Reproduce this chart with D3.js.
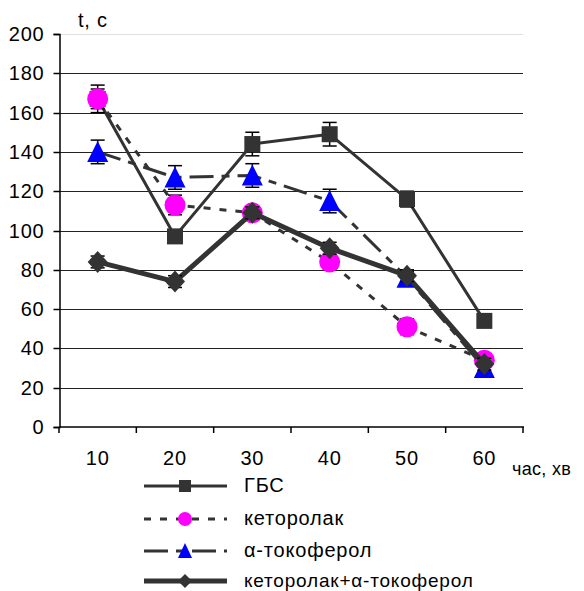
<!DOCTYPE html>
<html><head><meta charset="utf-8">
<script src="https://cdn.jsdelivr.net/npm/d3@7"></script>
<style>body{margin:0;background:#fff}svg{display:block}text{font-family:"Liberation Sans",Arial,sans-serif;letter-spacing:0.8px}</style>
</head><body>
<svg id="c" width="584" height="591"></svg>
<script>
const categories = ["10","20","30","40","50","60"];
const yTicks = [0,20,40,60,80,100,120,140,160,180,200];
const seriesNames = ["ГБС","кеторолак","α-токоферол","кеторолак+α-токоферол"];
const gbs = [167,97,144,149,116,54];
const gbsErr = [7,3,6,6,4,3];
const ketorolac = [167,113,109,84,51,34];
const ketorolacErr = [5,5,3,3,4,3];
const toco = [140,127,128,115,76,30];
const tocoErr = [6,6,6,6,3,2];
const combo = [84,74,109,91,77,32];
const comboErr = [3,3,3,3,3,3];

const svg = d3.select("#c");
const x = d3.scaleBand().domain(categories).range([59,523]);
const y = d3.scaleLinear().domain([0,200]).range([427,34]);
const cx = d => x(d) + x.bandwidth()/2;
const FS = 20;

// gridlines
svg.append("g").selectAll("line").data(yTicks.filter(t=>t>0)).join("line")
  .attr("x1",59).attr("x2",523)
  .attr("y1",d=>Math.round(y(d))+0.5).attr("y2",d=>Math.round(y(d))+0.5)
  .attr("stroke",d=>d===200?"#e0e0e0":"#222").attr("stroke-width",1);

// y axis
const ya = svg.append("g").attr("transform","translate(59.5,0)")
  .call(d3.axisLeft(y).tickValues(yTicks).tickSize(6).tickPadding(9));
ya.select(".domain").attr("stroke","#000").attr("stroke-width",1.5);
ya.selectAll(".tick line").attr("stroke","#000").attr("stroke-width",1.5);
ya.selectAll(".tick text").attr("font-size",FS).attr("font-family","Liberation Sans, Arial, sans-serif").attr("fill","#000");
ya.selectAll(".tick").attr("transform",d=>`translate(0,${Math.round(y(d))+0.5})`);

// x axis
svg.append("line").attr("x1",59).attr("x2",524).attr("y1",427).attr("y2",427).attr("stroke","#000").attr("stroke-width",1.5);
const bounds = categories.map(c=>x(c)).concat([523]);
svg.append("g").selectAll("line").data(bounds).join("line")
  .attr("x1",d=>d).attr("x2",d=>d).attr("y1",427).attr("y2",433).attr("stroke","#000").attr("stroke-width",1.5);
svg.append("g").selectAll("text").data(categories).join("text")
  .attr("x",d=>cx(d)).attr("y",465).attr("text-anchor","middle").attr("font-size",FS).text(d=>d);

svg.append("text").attr("x",78).attr("y",27).attr("font-size",FS).text("t, с");
svg.append("text").attr("x",512).attr("y",475).attr("font-size",FS-2).style("letter-spacing","0.3px").text("час, хв");

const series = [
  {name:seriesNames[0], v:gbs, e:gbsErr, w:3, dash:null, marker:"square", fill:"#333"},
  {name:seriesNames[1], v:ketorolac, e:ketorolacErr, w:3, dash:"7,9", marker:"circle", fill:"#ff00ff"},
  {name:seriesNames[2], v:toco, e:tocoErr, w:3, dash:"24,8,8,8", marker:"triangle", fill:"#0000ff"},
  {name:seriesNames[3], v:combo, e:comboErr, w:5, dash:null, marker:"diamond", fill:"#333"}
];

function drawMarker(g, type, px, py, fill){
  if(type==="square") g.append("rect").attr("x",px-8).attr("y",py-8).attr("width",16).attr("height",16).attr("fill",fill);
  else if(type==="circle") g.append("circle").attr("cx",px).attr("cy",py).attr("r",10.5).attr("fill",fill);
  else if(type==="triangle") g.append("path").attr("d",`M${px},${py-11}L${px+10.5},${py+10}L${px-10.5},${py+10}Z`).attr("fill",fill);
  else if(type==="diamond") g.append("path").attr("d",`M${px},${py-11}L${px+10},${py}L${px},${py+11}L${px-10},${py}Z`).attr("fill",fill);
}

const line = d3.line().x((d,i)=>cx(categories[i])).y(d=>y(d));
series.forEach(s=>{
  const g = svg.append("g");
  g.append("path").datum(s.v).attr("d",line).attr("fill","none").attr("stroke","#333")
    .attr("stroke-width",s.w).attr("stroke-dasharray",s.dash).attr("stroke-linejoin","round");
  s.v.forEach((v,i)=>{
    const px = cx(categories[i]);
    const eg = g.append("g").attr("stroke","#000").attr("stroke-width",1.5);
    const top = y(v+s.e[i]), bot = y(v-s.e[i]);
    eg.append("line").attr("x1",px).attr("x2",px).attr("y1",top).attr("y2",bot);
    eg.append("line").attr("x1",px-7).attr("x2",px+7).attr("y1",top).attr("y2",top);
    eg.append("line").attr("x1",px-7).attr("x2",px+7).attr("y1",bot).attr("y2",bot);
    drawMarker(g, s.marker, px, y(v), s.fill);
  });
});

// legend
const ly = [486,519,551,581];
series.forEach((s,i)=>{
  const g = svg.append("g");
  g.append("line").attr("x1",144).attr("x2",227).attr("y1",ly[i]).attr("y2",ly[i])
    .attr("stroke","#333").attr("stroke-width",s.w).attr("stroke-dasharray",s.dash);
  const m = g.append("g");
  if(s.marker==="square") m.append("rect").attr("x",185-6).attr("y",ly[i]-6).attr("width",12).attr("height",12).attr("fill",s.fill);
  else if(s.marker==="circle") m.append("circle").attr("cx",185).attr("cy",ly[i]).attr("r",7).attr("fill",s.fill);
  else if(s.marker==="triangle") m.append("path").attr("d",`M185,${ly[i]-8}L192,${ly[i]+7}L178,${ly[i]+7}Z`).attr("fill",s.fill);
  else m.append("path").attr("d",`M185,${ly[i]-7}L192,${ly[i]}L185,${ly[i]+7}L178,${ly[i]}Z`).attr("fill",s.fill);
  g.append("text").attr("x",244).attr("y",ly[i]+6).attr("font-size",i===3?FS-1:FS).text(s.name);
});
</script>
</body></html>
